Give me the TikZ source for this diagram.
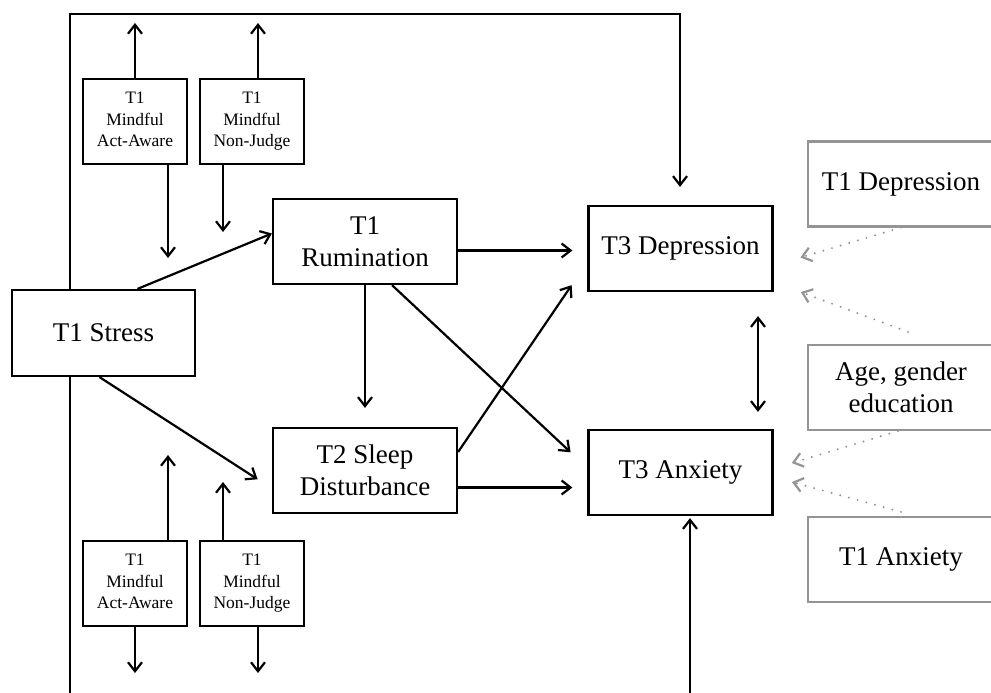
\documentclass[tikz,border=0pt]{standalone}
\usepackage{fontspec}
\setmainfont{Liberation Serif}
\usetikzlibrary{arrows.meta}

\begin{document}
\begin{tikzpicture}[x=1pt,y=-1pt,
        box/.style={draw,line width=2.2pt,minimum width=184pt,minimum height=85pt,inner sep=0pt,align=center,font=\fontsize{27}{32}\selectfont},
        mbox/.style={draw,line width=2.2pt,minimum width=104pt,minimum height=85pt,inner sep=0pt,align=center,font=\fontsize{17.5}{21.5}\selectfont,execute at end node={\vphantom{g}}},
        cbox/.style={box,draw=black!42,minimum width=186pt},
        arr/.style={line width=2.2pt,-{Straight Barb[length=9pt,width=14pt]}},
        both/.style={line width=2.2pt,{Straight Barb[length=9pt,width=14pt]}-{Straight Barb[length=9pt,width=14pt]}},
        cov/.style={line width=2.2pt,black!42,line cap=round,dash pattern=on 0pt off 9pt,-{Straight Barb[length=9pt,width=14pt]}}]
            \useasboundingbox (0,0) rectangle (991,693);

            \node (stress) at (103.5,333) [box,minimum width=183pt,minimum height=86pt] {T1 Stress};
            \node (rum) at (365,241.5) [box] {T1\\Rumination};
            \node (sleep) at (365,470.5) [box] {T2 Sleep\\Disturbance};
            \node (dep) at (680.5,248.5) [box] {T3 Depression};
            \node (anx) at (680.5,472.5) [box] {T3 Anxiety};

            \node (aa1) at (135,121.5) [mbox] {T1\\Mindful\\Act-Aware};
            \node (nj1) at (252,121.5) [mbox] {T1\\Mindful\\Non-Judge};
            \node (aa2) at (135,583.5) [mbox] {T1\\Mindful\\Act-Aware};
            \node (nj2) at (252,583.5) [mbox] {T1\\Mindful\\Non-Judge};

            \node (dep1) at (901,184) [cbox] {T1 Depression};
            \node (demo) at (901,387.5) [cbox] {Age, gender\\education};
            \node (anx1) at (901,559.5) [cbox] {T1 Anxiety};

            \coordinate (topL) at (70,14);
            \coordinate (topR) at (680,14);
            \coordinate (botL) at (70,700);
            \coordinate (botR) at (690,700);
            \coordinate (aa1up) at (135,23);
            \coordinate (nj1up) at (258,23);
            \coordinate (aa1dn) at (168,258);
            \coordinate (nj1dn) at (223,232);
            \coordinate (aa2up) at (168,455);
            \coordinate (nj2up) at (223,482);
            \coordinate (aa2dn) at (135,673);
            \coordinate (nj2dn) at (258,673);

            \draw[arr,shorten >=18pt] (stress.north -| topL) -- (topL) -- (topR) -- (dep.north -| topR);
            \draw[line width=2.2pt] (stress.south -| botL) -- (botL);
            \draw[arr,shorten >=2pt] (botR) -- (anx.south -| botR);

            \draw[arr] (aa1.north -| aa1up) -- (aa1up);
            \draw[arr] (nj1.north -| nj1up) -- (nj1up);
            \draw[arr] (aa1.south -| aa1dn) -- (aa1dn);
            \draw[arr] (nj1.south -| nj1dn) -- (nj1dn);
            \draw[arr] (aa2.north -| aa2up) -- (aa2up);
            \draw[arr] (nj2.north -| nj2up) -- (nj2up);
            \draw[arr] (aa2.south -| aa2dn) -- (aa2dn);
            \draw[arr] (nj2.south -| nj2dn) -- (nj2dn);

            \draw[arr] ([xshift=34pt]stress.north) -- ([yshift=8pt]rum.west);
            \draw[arr,shorten >=17pt] ([xshift=-4pt]stress.south) -- ([yshift=-18pt]sleep.west);
            \draw[arr,shorten >=19pt] (rum.south) -- (sleep.north);
            \draw[arr,shorten >=15pt] ([yshift=-9pt]rum.east) -- ([yshift=-9pt]rum.east -| dep.west);
            \draw[arr,shorten >=15pt] ([yshift=-17pt]sleep.east) -- ([yshift=-17pt]sleep.east -| anx.west);
            \draw[arr,shorten >=23pt] ([xshift=27pt]rum.south) -- ([yshift=4.5pt]anx.west);
            \draw[arr,shorten >=28pt] ([yshift=18.5pt]sleep.east) -- ([yshift=-13.5pt]dep.west);
            \draw[both,shorten <=24pt,shorten >=17pt] ([xshift=77.5pt]dep.south) -- ([xshift=77.5pt]anx.north);

            \draw[cov,shorten >=28pt] (dep1.south) -- ([yshift=-17pt]dep.east);
            \draw[cov,shorten >=29pt] ([xshift=7pt,yshift=12pt]demo.north) -- ([yshift=-33.5pt]dep.east);
            \draw[cov,shorten >=19pt] ([xshift=-3pt]demo.south) -- ([yshift=4pt]anx.east);
            \draw[cov,shorten >=19pt] ([yshift=4pt]anx1.north) -- ([yshift=-4.5pt]anx.east);

        \end{tikzpicture}
\end{document}
